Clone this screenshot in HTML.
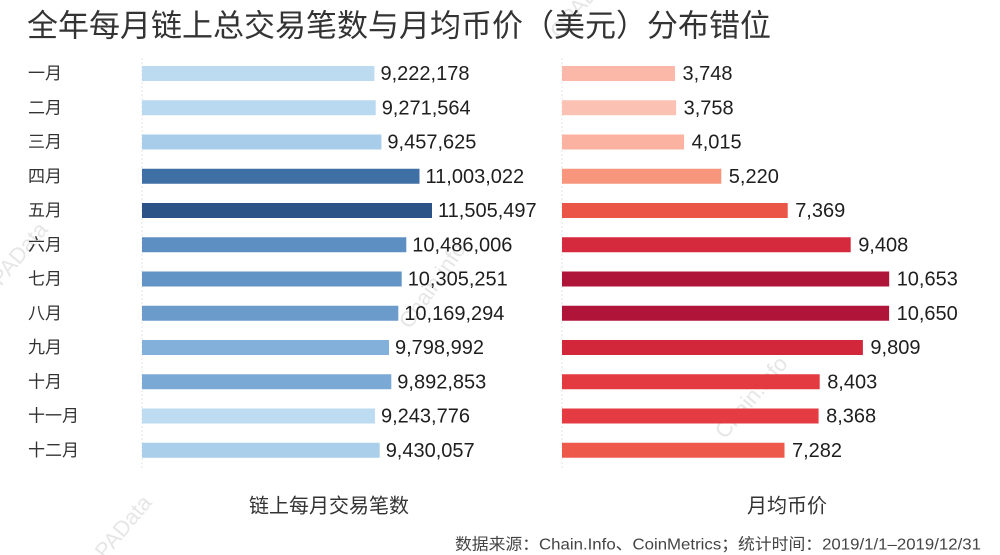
<!DOCTYPE html>
<html>
<head>
<meta charset="utf-8">
<style>
html,body{margin:0;padding:0;background:#fff;}
svg{display:block;}
text{font-family:"Liberation Sans","Noto Sans CJK SC",sans-serif;}
.cjk{font-family:"Noto Sans CJK SC","WenQuanYi Zen Hei",sans-serif;}
</style>
</head>
<body>
<svg width="1000" height="555" viewBox="0 0 1000 555" xmlns="http://www.w3.org/2000/svg">
<rect width="1000" height="555" fill="#ffffff"/>

<!-- watermarks -->
<g fill="#e6e6e6" font-size="22">
<text x="560" y="40" transform="rotate(-50 560 40)">OPAData</text>
<text x="410" y="330" transform="rotate(-55 410 330)">Chain.info</text>
<text x="725" y="440" transform="rotate(-50 725 440)">Chain.info</text>
<text x="105" y="560" transform="rotate(-50 105 560)">PAData</text>
<text x="-10" y="300" transform="rotate(-50 -10 300)">OPAData</text>
</g>

<!-- title -->
<text class="cjk" x="27" y="23" font-size="31" fill="#333" dominant-baseline="central">全年每月链上总交易笔数与月均币价（美元）分布错位</text>

<!-- axis lines -->
<line x1="142" y1="58" x2="142" y2="468" stroke="#e4e4e4" stroke-width="1" stroke-dasharray="2,2"/>
<line x1="562" y1="58" x2="562" y2="468" stroke="#e4e4e4" stroke-width="1" stroke-dasharray="2,2"/>

<!-- month labels -->
<g class="cjk" font-size="17" fill="#333" dominant-baseline="central">
<text x="28" y="73.5">一月</text>
<text x="28" y="107.75">二月</text>
<text x="28" y="142">三月</text>
<text x="28" y="176.25">四月</text>
<text x="28" y="210.5">五月</text>
<text x="28" y="244.75">六月</text>
<text x="28" y="279">七月</text>
<text x="28" y="313.25">八月</text>
<text x="28" y="347.5">九月</text>
<text x="28" y="381.75">十月</text>
<text x="28" y="416">十一月</text>
<text x="28" y="450.25">十二月</text>
</g>

<!-- left bars -->
<g>
<rect x="142" y="66" width="232.4" height="15" fill="#bcdbf1"/>
<rect x="142" y="100.25" width="233.7" height="15" fill="#b9d9f0"/>
<rect x="142" y="134.5" width="239.4" height="15" fill="#a8cdea"/>
<rect x="142" y="168.75" width="277.5" height="15" fill="#3e6fa5"/>
<rect x="142" y="203" width="290" height="15" fill="#2b5388"/>
<rect x="142" y="237.25" width="264.3" height="15" fill="#5d8fc2"/>
<rect x="142" y="271.5" width="259.7" height="15" fill="#6394c6"/>
<rect x="142" y="305.75" width="256.3" height="15" fill="#6a9bcb"/>
<rect x="142" y="340" width="247" height="15" fill="#82b0da"/>
<rect x="142" y="374.25" width="249.3" height="15" fill="#7aa9d5"/>
<rect x="142" y="408.5" width="233" height="15" fill="#bddcf2"/>
<rect x="142" y="442.75" width="237.7" height="15" fill="#a9cfeb"/>
</g>

<!-- left values -->
<g font-size="20" fill="#1e1e1e" dominant-baseline="central">
<text x="380.5" y="74">9,222,178</text>
<text x="381.7" y="108.25">9,271,564</text>
<text x="387.4" y="142.5">9,457,625</text>
<text x="425.5" y="176.75">11,003,022</text>
<text x="438" y="211">11,505,497</text>
<text x="412.3" y="245.25">10,486,006</text>
<text x="407.7" y="279.5">10,305,251</text>
<text x="404.3" y="313.75">10,169,294</text>
<text x="395" y="348">9,798,992</text>
<text x="397.3" y="382.25">9,892,853</text>
<text x="381" y="416.5">9,243,776</text>
<text x="385.7" y="450.75">9,430,057</text>
</g>

<!-- right bars -->
<g>
<rect x="562" y="66" width="113" height="15" fill="#fbb7a7"/>
<rect x="562" y="100.25" width="114.1" height="15" fill="#fbc1b3"/>
<rect x="562" y="134.5" width="122.1" height="15" fill="#fbb2a1"/>
<rect x="562" y="168.75" width="159.3" height="15" fill="#f8967d"/>
<rect x="562" y="203" width="225.7" height="15" fill="#eb5548"/>
<rect x="562" y="237.25" width="288.7" height="15" fill="#d52a3d"/>
<rect x="562" y="271.5" width="327.2" height="15" fill="#af1439"/>
<rect x="562" y="305.75" width="327.1" height="15" fill="#b01539"/>
<rect x="562" y="340" width="300.9" height="15" fill="#d2263b"/>
<rect x="562" y="374.25" width="257.7" height="15" fill="#e33a41"/>
<rect x="562" y="408.5" width="256.6" height="15" fill="#e43c42"/>
<rect x="562" y="442.75" width="222.5" height="15" fill="#ed5a4b"/>
</g>

<!-- right values -->
<g font-size="20" fill="#1e1e1e" dominant-baseline="central">
<text x="682.5" y="74">3,748</text>
<text x="683.6" y="108.25">3,758</text>
<text x="691.6" y="142.5">4,015</text>
<text x="728.8" y="176.75">5,220</text>
<text x="795.2" y="211">7,369</text>
<text x="858.2" y="245.25">9,408</text>
<text x="896.7" y="279.5">10,653</text>
<text x="896.6" y="313.75">10,650</text>
<text x="870.4" y="348">9,809</text>
<text x="827.2" y="382.25">8,403</text>
<text x="826.1" y="416.5">8,368</text>
<text x="792" y="450.75">7,282</text>
</g>

<!-- axis titles -->
<text class="cjk" x="329" y="504" font-size="20" fill="#333" text-anchor="middle" dominant-baseline="central">链上每月交易笔数</text>
<text class="cjk" x="787" y="504" font-size="20" fill="#333" text-anchor="middle" dominant-baseline="central">月均币价</text>

<!-- source -->
<text x="455" y="545" font-size="16" fill="#444" dominant-baseline="central" textLength="526" lengthAdjust="spacingAndGlyphs">数据来源：Chain.Info、CoinMetrics；统计时间：2019/1/1–2019/12/31</text>
</svg>
</body>
</html>
